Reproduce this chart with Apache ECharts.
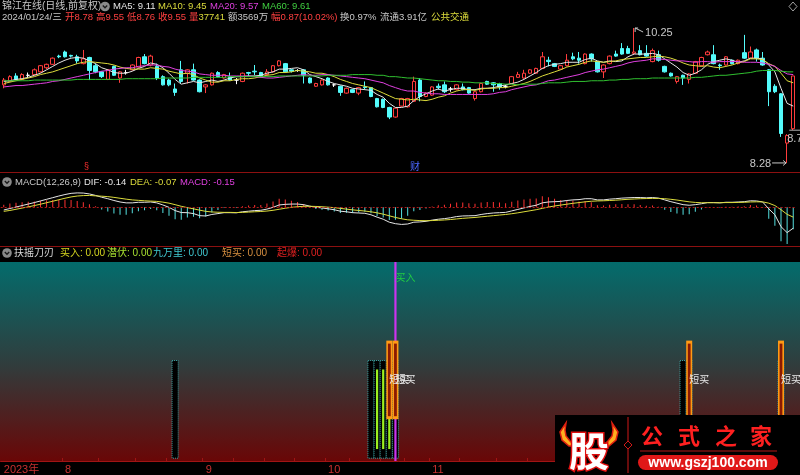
<!DOCTYPE html>
<html>
<head>
<meta charset="utf-8">
<script src="https://cdn.jsdelivr.net/npm/echarts@6/dist/echarts.min.js"></script>
<style>
html,body{margin:0;padding:0;background:#000;overflow:hidden;}
#chart{width:800px;height:475px;}
</style>
</head>
<body>
<div id="chart"></div>
<script>
// ---------- categories (trading days) ----------
const tradingDays = [
  ['2023-07', [18,19,20,21,24,25,26,27,28,31]],
  ['2023-08', [1,2,3,4,7,8,9,10,11,14,15,16,17,18,21,22,23,24,25,28,29,30,31]],
  ['2023-09', [1,4,5,6,7,8,11,12,13,14,15,18,19,20,21,22,25,26,27,28]],
  ['2023-10', [9,10,11,12,13,16,17,18,19,20,23,24,25,26,27,30,31]],
  ['2023-11', [1,2,3,6,7,8,9,10,13,14,15,16,17,20,21,22,23,24,27,28,29,30]],
  ['2023-12', [1,4,5,6,7,8,11,12,13,14,15,18,19,20,21,22,25,26,27,28,29]],
  ['2024-01', [2,3,4,5,8,9,10,11,12,15,16,17,18,19,22,23,24]]
];
const categories = [];
tradingDays.forEach(([m, ds]) => ds.forEach(d => categories.push(m + '-' + String(d).padStart(2, '0'))));

const axisLabels = [['2023-07-18','2023年'],['2023-08-01','8'],['2023-09-01','9'],['2023-10-09','10'],['2023-11-01','11'],['2023-12-01','12'],['2024-01-02','2024年']];
const axisTicks = ['2023-08-01','2023-08-09','2023-08-17','2023-08-24','2023-09-01','2023-09-08','2023-09-15','2023-09-22','2023-10-09','2023-10-13','2023-10-20','2023-10-26','2023-11-01','2023-11-08','2023-11-16','2023-11-23','2023-12-01','2023-12-08','2023-12-15','2023-12-22','2024-01-02','2024-01-08','2024-01-12','2024-01-18'];

// ---------- price data ----------
const opens = [9.42,9.47,9.55,9.50,9.56,9.57,9.61,9.67,9.72,9.84,
9.90,9.85,9.83,9.73,9.82,9.70,9.61,9.50,9.69,9.52,
9.60,9.64,9.68,9.83,9.71,9.69,9.54,9.49,9.36,9.64,
9.59,9.64,9.49,9.39,9.42,9.60,9.52,9.54,9.49,9.47,
9.60,9.62,9.60,9.57,9.61,9.70,9.73,9.64,9.63,9.64,
9.52,9.40,9.42,9.52,9.42,9.40,9.30,9.35,9.30,9.39,
9.38,9.22,9.21,9.09,8.95,9.11,9.10,9.18,9.49,9.25,
9.27,9.40,9.42,9.36,9.35,9.39,9.38,9.22,9.32,9.47,
9.45,9.44,9.40,9.44,9.53,9.52,9.59,9.59,9.66,9.78,
9.73,9.65,9.70,9.83,9.81,9.73,9.87,9.76,9.61,9.73,
9.87,9.95,9.95,9.88,9.92,9.88,9.76,9.86,9.69,9.59,
9.47,9.56,9.50,9.59,9.70,9.86,9.86,9.71,9.71,9.78,
9.73,9.89,9.81,9.93,9.81,9.64,9.40,9.29,8.57,8.78];
const highs = [9.52,9.56,9.59,9.59,9.60,9.66,9.71,9.73,9.82,9.86,
9.92,9.86,9.86,9.93,9.83,9.73,9.62,9.65,9.70,9.62,
9.64,9.72,9.83,9.87,9.86,9.73,9.56,9.51,9.44,9.77,
9.65,9.73,9.50,9.43,9.60,9.62,9.58,9.60,9.52,9.60,
9.61,9.71,9.61,9.65,9.71,9.78,9.74,9.65,9.65,9.65,
9.53,9.45,9.50,9.53,9.44,9.41,9.38,9.36,9.39,9.47,
9.39,9.23,9.22,9.10,9.09,9.23,9.23,9.54,9.52,9.31,
9.40,9.44,9.47,9.39,9.43,9.44,9.39,9.33,9.45,9.48,
9.46,9.45,9.42,9.55,9.61,9.64,9.65,9.67,9.90,9.83,
9.74,9.71,9.87,9.89,9.90,9.88,9.88,9.77,9.72,9.85,
9.92,10.03,9.99,10.25,10.00,10.00,9.95,9.92,9.70,9.60,
9.55,9.57,9.59,9.77,9.83,9.92,10.00,9.73,9.84,9.79,
9.79,10.15,9.98,9.95,9.90,9.65,9.43,9.30,8.70,9.55];
const lows = [9.37,9.46,9.49,9.49,9.52,9.56,9.60,9.65,9.71,9.81,
9.82,9.82,9.73,9.72,9.49,9.59,9.52,9.49,9.55,9.45,
9.57,9.63,9.67,9.72,9.69,9.49,9.41,9.40,9.26,9.44,
9.44,9.48,9.31,9.30,9.41,9.53,9.51,9.48,9.43,9.46,
9.55,9.56,9.53,9.56,9.60,9.69,9.60,9.60,9.61,9.44,
9.44,9.39,9.41,9.41,9.39,9.26,9.29,9.30,9.27,9.35,
9.24,9.09,9.08,8.92,8.94,9.10,9.09,9.17,9.18,9.24,
9.26,9.35,9.30,9.32,9.34,9.34,9.29,9.19,9.31,9.42,
9.32,9.35,9.37,9.43,9.52,9.51,9.58,9.58,9.65,9.69,
9.68,9.64,9.69,9.78,9.73,9.72,9.76,9.60,9.52,9.72,
9.83,9.86,9.87,9.86,9.85,9.83,9.75,9.76,9.60,9.54,
9.44,9.42,9.44,9.58,9.69,9.85,9.72,9.64,9.70,9.72,
9.72,9.80,9.80,9.76,9.70,9.11,9.30,8.66,8.28,8.76];
const closes = [9.49,9.54,9.50,9.57,9.56,9.64,9.70,9.72,9.81,9.83,
9.83,9.84,9.77,9.80,9.63,9.61,9.54,9.64,9.56,9.61,
9.60,9.71,9.82,9.73,9.84,9.52,9.42,9.42,9.31,9.47,
9.64,9.49,9.32,9.42,9.59,9.54,9.57,9.49,9.49,9.59,
9.59,9.61,9.54,9.61,9.70,9.77,9.61,9.62,9.63,9.56,
9.45,9.44,9.49,9.42,9.42,9.31,9.37,9.31,9.38,9.38,
9.25,9.10,9.09,8.95,9.08,9.22,9.22,9.47,9.25,9.30,
9.39,9.38,9.32,9.36,9.42,9.35,9.30,9.32,9.44,9.43,
9.42,9.39,9.40,9.54,9.57,9.59,9.64,9.66,9.83,9.76,
9.69,9.70,9.78,9.80,9.78,9.87,9.80,9.61,9.71,9.84,
9.84,9.87,9.88,9.90,9.86,9.84,9.92,9.78,9.61,9.55,
9.54,9.52,9.58,9.76,9.82,9.90,9.73,9.70,9.83,9.73,
9.78,9.81,9.90,9.81,9.71,9.32,9.32,8.71,8.68,9.55];

// ---------- moving averages ----------
const ma5 = [9.47,9.48,9.50,9.51,9.53,9.56,9.59,9.64,9.69,9.74,
9.78,9.81,9.82,9.81,9.77,9.73,9.67,9.64,9.60,9.59,
9.59,9.62,9.66,9.69,9.74,9.72,9.67,9.59,9.50,9.43,
9.45,9.47,9.45,9.47,9.49,9.47,9.49,9.52,9.54,9.54,
9.55,9.55,9.56,9.59,9.61,9.65,9.65,9.66,9.67,9.64,
9.57,9.54,9.51,9.47,9.44,9.42,9.40,9.37,9.36,9.35,
9.34,9.28,9.24,9.15,9.09,9.09,9.11,9.19,9.25,9.29,
9.33,9.36,9.33,9.35,9.37,9.37,9.35,9.35,9.37,9.37,
9.38,9.40,9.42,9.44,9.46,9.50,9.55,9.60,9.66,9.70,
9.72,9.73,9.75,9.75,9.75,9.79,9.81,9.77,9.75,9.77,
9.76,9.77,9.83,9.87,9.87,9.87,9.88,9.86,9.80,9.74,
9.68,9.60,9.56,9.59,9.64,9.72,9.76,9.78,9.80,9.78,
9.75,9.77,9.81,9.81,9.80,9.71,9.61,9.37,9.15,9.11];
const ma10 = [9.44,9.46,9.48,9.50,9.52,9.54,9.57,9.59,9.61,9.64,
9.67,9.70,9.73,9.75,9.76,9.75,9.74,9.73,9.71,9.68,
9.66,9.65,9.65,9.65,9.67,9.66,9.65,9.62,9.60,9.58,
9.59,9.57,9.52,9.49,9.46,9.46,9.48,9.48,9.50,9.51,
9.51,9.52,9.54,9.56,9.57,9.60,9.60,9.61,9.63,9.62,
9.61,9.59,9.59,9.57,9.54,9.50,9.47,9.44,9.42,9.40,
9.38,9.34,9.30,9.26,9.22,9.21,9.20,9.21,9.20,9.19,
9.21,9.24,9.26,9.30,9.33,9.35,9.35,9.34,9.36,9.37,
9.37,9.38,9.38,9.40,9.42,9.44,9.47,9.51,9.55,9.58,
9.61,9.64,9.68,9.70,9.72,9.75,9.77,9.76,9.75,9.76,
9.77,9.79,9.80,9.81,9.82,9.82,9.83,9.84,9.83,9.81,
9.78,9.74,9.71,9.70,9.69,9.70,9.68,9.67,9.69,9.71,
9.74,9.76,9.80,9.80,9.79,9.73,9.69,9.59,9.48,9.45];
const ma20 = [9.39,9.40,9.41,9.41,9.42,9.43,9.44,9.45,9.47,9.48,
9.50,9.52,9.54,9.56,9.58,9.60,9.62,9.63,9.65,9.66,
9.67,9.67,9.69,9.70,9.71,9.71,9.69,9.68,9.65,9.63,
9.62,9.61,9.58,9.57,9.56,9.56,9.56,9.55,9.55,9.55,
9.55,9.54,9.53,9.52,9.52,9.53,9.54,9.55,9.56,9.57,
9.56,9.56,9.57,9.57,9.56,9.55,9.54,9.53,9.52,9.51,
9.49,9.47,9.45,9.41,9.38,9.35,9.33,9.33,9.31,9.30,
9.29,9.29,9.28,9.28,9.28,9.28,9.28,9.28,9.28,9.28,
9.29,9.31,9.32,9.35,9.37,9.39,9.41,9.42,9.45,9.48,
9.49,9.51,9.53,9.55,9.57,9.60,9.62,9.64,9.65,9.67,
9.69,9.71,9.74,9.76,9.77,9.78,9.80,9.80,9.79,9.78,
9.77,9.77,9.76,9.75,9.76,9.76,9.75,9.76,9.76,9.76,
9.76,9.75,9.75,9.75,9.74,9.72,9.69,9.63,9.58,9.57];
const ma60 = [9.48,9.48,9.48,9.48,9.48,9.49,9.49,9.49,9.49,9.49,
9.49,9.49,9.50,9.50,9.50,9.50,9.50,9.50,9.50,9.50,
9.51,9.51,9.51,9.51,9.51,9.51,9.52,9.52,9.52,9.52,
9.52,9.53,9.53,9.53,9.53,9.53,9.53,9.54,9.54,9.54,
9.54,9.54,9.54,9.54,9.54,9.55,9.55,9.55,9.55,9.55,
9.55,9.55,9.55,9.56,9.56,9.56,9.56,9.57,9.57,9.57,
9.57,9.56,9.56,9.54,9.54,9.53,9.52,9.52,9.51,9.50,
9.49,9.48,9.48,9.47,9.47,9.46,9.46,9.45,9.45,9.45,
9.44,9.44,9.43,9.43,9.42,9.43,9.43,9.43,9.44,9.45,
9.45,9.45,9.46,9.47,9.47,9.47,9.48,9.48,9.48,9.49,
9.49,9.50,9.50,9.51,9.51,9.51,9.52,9.52,9.52,9.52,
9.52,9.52,9.52,9.53,9.53,9.54,9.55,9.56,9.56,9.57,
9.58,9.59,9.60,9.62,9.63,9.63,9.63,9.62,9.61,9.61];

// ---------- MACD ----------
const dif = [-0.018,-0.008,0.002,0.012,0.022,0.032,0.043,0.054,0.065,0.076,
0.086,0.094,0.097,0.096,0.09,0.08,0.068,0.058,0.046,0.036,
0.03,0.03,0.034,0.034,0.036,0.03,0.016,0,-0.022,-0.035,
-0.036,-0.042,-0.056,-0.058,-0.048,-0.042,-0.036,-0.036,-0.037,-0.03,
-0.026,-0.022,-0.02,-0.012,0,0.016,0.02,0.022,0.022,0.018,
0.008,0,-0.004,-0.01,-0.016,-0.026,-0.03,-0.036,-0.038,-0.04,
-0.05,-0.066,-0.08,-0.1,-0.11,-0.115,-0.112,-0.10,-0.098,-0.094,
-0.086,-0.08,-0.076,-0.07,-0.062,-0.058,-0.057,-0.056,-0.048,-0.042,
-0.038,-0.036,-0.034,-0.024,-0.014,-0.004,0.006,0.014,0.03,0.036,
0.038,0.04,0.046,0.05,0.052,0.058,0.058,0.05,0.05,0.055,
0.058,0.062,0.064,0.066,0.066,0.064,0.066,0.062,0.05,0.038,
0.028,0.018,0.014,0.018,0.024,0.032,0.032,0.03,0.034,0.034,
0.036,0.038,0.044,0.043,0.036,-0.01,-0.05,-0.13,-0.17,-0.14];
const dea = [-0.027,-0.021,-0.013,-0.005,0.003,0.012,0.021,0.031,0.041,0.051,
0.061,0.070,0.076,0.079,0.080,0.077,0.075,0.072,0.067,0.061,
0.055,0.050,0.047,0.044,0.042,0.040,0.035,0.028,0.018,0.007,
-0.002,-0.010,-0.019,-0.027,-0.031,-0.033,-0.034,-0.034,-0.035,-0.034,
-0.032,-0.030,-0.028,-0.025,-0.020,-0.013,-0.006,0.000,0.004,0.007,
0.007,0.006,0.004,0.001,-0.002,-0.007,-0.012,-0.017,-0.021,-0.025,
-0.030,-0.037,-0.046,-0.057,-0.068,-0.077,-0.084,-0.087,-0.089,-0.090,
-0.089,-0.087,-0.085,-0.082,-0.078,-0.074,-0.071,-0.068,-0.064,-0.060,
-0.056,-0.052,-0.048,-0.043,-0.037,-0.030,-0.023,-0.016,-0.007,0.002,
0.009,0.015,0.021,0.027,0.032,0.037,0.041,0.043,0.044,0.046,
0.048,0.051,0.054,0.056,0.058,0.059,0.060,0.060,0.058,0.054,
0.049,0.043,0.037,0.033,0.031,0.031,0.031,0.031,0.032,0.032,
0.033,0.034,0.036,0.037,0.037,0.028,0.012,-0.016,-0.047,-0.066];
const macd = [0.018,0.025,0.030,0.034,0.038,0.040,0.044,0.047,0.049,0.051,
0.051,0.049,0.043,0.034,0.021,0.007,-0.014,-0.028,-0.042,-0.050,
-0.050,-0.040,-0.026,-0.020,-0.012,-0.020,-0.038,-0.056,-0.080,-0.084,
-0.068,-0.064,-0.074,-0.062,-0.034,-0.018,-0.004,-0.004,-0.004,0.008,
0.012,0.016,0.016,0.026,0.040,0.058,0.052,0.044,0.036,0.022,
0.002,-0.012,-0.016,-0.022,-0.028,-0.038,-0.036,-0.038,-0.034,-0.030,
-0.040,-0.058,-0.068,-0.086,-0.084,-0.076,-0.056,-0.026,-0.018,-0.008,
0.006,0.014,0.018,0.024,0.032,0.032,0.028,0.024,0.032,0.036,
0.036,0.032,0.028,0.038,0.046,0.052,0.058,0.060,0.074,0.068,
0.058,0.050,0.050,0.046,0.040,0.042,0.034,0.014,0.012,0.018,
0.020,0.022,0.020,0.020,0.016,0.010,0.012,0.004,-0.016,-0.032,
-0.042,-0.050,-0.046,-0.030,-0.014,0.002,0.002,-0.002,0.004,0.004,
0.006,0.008,0.016,0.012,-0.002,-0.076,-0.124,-0.228,-0.246,-0.148];

// ---------- 扶摇刀刃 indicator signals: [date, low, high] ----------
const latentBars = [['2023-08-25',1.4,50.5],['2023-10-18',1.4,50.5],['2023-10-19',1.4,50.5],['2023-10-20',1.4,50.5],['2023-10-23',1.4,50.5],['2023-10-24',1.4,50.5],['2023-12-28',1.4,50.5],['2023-12-29',1.4,50.5],['2024-01-22',1.4,50.5]];
const ninetyBars = [['2023-10-19',6,46],['2023-10-20',6,46],['2023-10-23',6,46]];
const shortBuyBars = [['2023-10-23',21,60.5],['2023-10-24',21,60.5],['2023-12-29',21,60.5],['2024-01-22',21,60.5]];
const buyLines = [['2023-10-24',0,100]];
const shortBuyText = [['2023-10-23',41],['2023-10-24',41],['2023-12-29',41],['2024-01-22',41]];
const buyText = [['2023-10-24',92.5]];

// ---------- header values ----------
const quote = {date:'2024/01/24/三', open:'8.78', high:'9.55', low:'8.76', close:'9.55', vol:'37741', amt:'3569万', chg:'0.87(10.02%)', turn:'0.97%', flt:'3.91亿', sector:'公共交通'};
const macdHead = {dif:'-0.14', dea:'-0.07', macd:'-0.15'};

// ================= rendering =================
const FONT = '"Liberation Sans","Noto Sans CJK SC",sans-serif';
const CJK = '"Noto Sans CJK SC",sans-serif';
const chart = echarts.init(document.getElementById('chart'), null, {renderer:'canvas'});
const labelMap = new Map(axisLabels);
const tickSet = new Set(axisTicks);

function T(x, y, text, fill, size, extra) {
  return Object.assign({type:'text', z:50, style:{text:text, x:x, y:y, fill:fill, font:(size||10)+'px '+FONT, verticalAlign:'middle', textVerticalAlign:'middle'}}, extra||{});
}
function icon(cx, cy) {
  return [
    {type:'circle', z:50, shape:{cx:cx, cy:cy, r:4.8}, style:{fill:'#8a8a8a'}},
    {type:'polyline', z:51, shape:{points:[[cx-2.2,cy-1],[cx,cy+1.3],[cx+2.2,cy-1]]}, style:{stroke:'#1a1a1a', lineWidth:1.3, fill:null}}
  ];
}
function wmText(t, x, y, fill, font) {
  return {type:'text', z:102, style:{text:t, x:x, y:y, fill:fill, font:font, align:'center', textAlign:'center', verticalAlign:'middle', textVerticalAlign:'middle'}};
}
const RED='#ff4040', GRAY='#c8c8c8', YEL='#dcdc3c';
const last = categories.length - 1;
const R2 = 9.5;

const baseGraphics = [
  {type:'rect', z:-10, shape:{x:0,y:262,width:800,height:200}, style:{fill:{type:'linear',x:0,y:0,x2:0,y2:1,colorStops:[{offset:0,color:'#036c6c'},{offset:0.5,color:'#2f3e3e'},{offset:1,color:'#6a0606'}]}}},
  {type:'line', z:5, shape:{x1:0,y1:172.5,x2:800,y2:172.5}, style:{stroke:'#8c1010', lineWidth:1}},
  {type:'line', z:5, shape:{x1:0,y1:246.5,x2:800,y2:246.5}, style:{stroke:'#8c1010', lineWidth:1}},
  // header row 1
  T(2, 6.5, '锦江在线(日线,前复权)', GRAY),
  ...icon(105, 6.5),
  T(113, 6.5, 'MA5: ' + ma5[last].toFixed(2), '#e6e6e6', 9.5),
  T(158, 6.5, 'MA10: ' + ma10[last].toFixed(2), YEL, 9.5),
  T(210, 6.5, 'MA20: ' + ma20[last].toFixed(2), '#e040e0', 9.5),
  T(262, 6.5, 'MA60: ' + ma60[last].toFixed(2), '#40d040', 9.5),
  // header row 2
  T(2, 17, quote.date, GRAY, R2),
  T(65, 17, '开' + quote.open, RED, R2),
  T(96, 17, '高' + quote.high, RED, R2),
  T(127, 17, '低' + quote.low, RED, R2),
  T(158, 17, '收' + quote.close, RED, R2),
  T(189, 17, '量', RED, R2),
  T(198.5, 17, quote.vol, YEL, R2),
  T(228, 17, '额' + quote.amt, GRAY, R2),
  T(271, 17, '幅' + quote.chg, RED, R2),
  T(340, 17, '换' + quote.turn, GRAY, R2),
  T(380, 17, '流通' + quote.flt, GRAY, R2),
  T(431, 17, quote.sector, YEL, R2),
  {type:'polygon', z:50, shape:{points:[[793,2],[797,6.5],[793,11],[789,6.5]]}, style:{stroke:'#a0a0a0', fill:null, lineWidth:1}},
  // MACD header
  ...icon(7, 182),
  T(15, 182, 'MACD(12,26,9)', GRAY, 9.5),
  T(84, 182, 'DIF: ' + macdHead.dif, '#e6e6e6', 9.5),
  T(130, 182, 'DEA: ' + macdHead.dea, YEL, 9.5),
  T(180, 182, 'MACD: ' + macdHead.macd, '#e040e0', 9.5),
  // indicator header
  ...icon(7, 253),
  T(14, 253, '扶摇刀刃', '#d8d8d8'),
  T(60, 253, '买入: 0.00', '#d8d820'),
  T(107, 253, '潜伏: 0.00', '#a8e030'),
  T(153, 253, '九万里: 0.00', '#40c8d0'),
  T(222, 253, '短买: 0.00', '#d89040'),
  T(277, 253, '起爆: 0.00', '#e02020'),
  // event markers
  T(84, 167, '§', '#ff3030', 9),
  T(410, 167, '财', '#4a66ff', 10),
  // watermark
  {type:'group', z:100, children:[
    {type:'rect', z:100, shape:{x:555,y:415,width:245,height:60}, style:{fill:'#000'}},
    {type:'polygon', z:101, shape:{points:[[566,423],[560,432],[562,440],[569,446],[575,446],[570,441],[566,436],[565,430]]}, style:{fill:'#ffb020', stroke:'#e02010', lineWidth:1.5}},
    {type:'polygon', z:101, shape:{points:[[612,423],[618,432],[616,440],[609,446],[603,446],[608,441],[612,436],[613,430]]}, style:{fill:'#ffb020', stroke:'#e02010', lineWidth:1.5}},
    {type:'text', z:102, style:{text:'股', x:589, y:451, fill:'#ffffff', stroke:'#e01010', lineWidth:3, font:'bold 40px '+CJK, align:'center', textAlign:'center', verticalAlign:'middle', textVerticalAlign:'middle'}},
    {type:'line', z:101, shape:{x1:628,y1:417,x2:628,y2:473}, style:{stroke:'#d01818', lineWidth:1}},
    {type:'polygon', z:102, shape:{points:[[628,441],[632,445],[628,449],[624,445]]}, style:{fill:'#000', stroke:'#d01818', lineWidth:1}},
    wmText('公', 652, 436, '#ff2020', 'bold 22px '+CJK),
    wmText('式', 689, 436, '#ff2020', 'bold 22px '+CJK),
    wmText('之', 726, 436, '#ff2020', 'bold 22px '+CJK),
    wmText('家', 761, 436, '#ff2020', 'bold 22px '+CJK),
    {type:'line', z:101, shape:{x1:640,y1:451,x2:777,y2:451}, style:{stroke:'#7a1010', lineWidth:1.5}},
    {type:'rect', z:101, shape:{x:638,y:455,width:140,height:15,r:7.5}, style:{fill:'#e01818'}},
    wmText('www.gszj100.com', 708, 463, '#ffffff', 'bold 14px "Liberation Sans",Arial,sans-serif')
  ]}
];

function stick(style, width) {
  return function (params, api) {
    const x = api.value(0);
    const lo = api.coord([x, api.value(1)]);
    const hi = api.coord([x, api.value(2)]);
    const w = width || api.size([1, 0])[0];
    return {type:'rect', shape:{x:lo[0]-w/2, y:hi[1], width:w, height:lo[1]-hi[1]}, style:style};
  };
}
function orangeStick(params, api) {
  const x = api.value(0);
  const lo = api.coord([x, api.value(1)]);
  const hi = api.coord([x, api.value(2)]);
  return {type:'group', children:[
    {type:'rect', shape:{x:lo[0]-3, y:hi[1], width:6, height:lo[1]-hi[1]}, style:{fill:'#ff9a14'}},
    {type:'rect', shape:{x:lo[0]-1.4, y:hi[1]+3, width:2.8, height:lo[1]-hi[1]-6}, style:{fill:'#8a1a02'}}
  ]};
}
function textItem(txt, color) {
  return function (params, api) {
    const p = api.coord([api.value(0), api.value(1)]);
    return {type:'text', x:p[0], y:p[1], style:{text:txt, fill:color, font:'10px '+CJK, verticalAlign:'middle', textVerticalAlign:'middle'}};
  };
}

const G = {left:0.7, width:795.6};
const option = {
  backgroundColor:'#000',
  animation:false,
  grid:[
    Object.assign({top:22, height:148}, G),
    Object.assign({top:188, height:58}, G),
    Object.assign({top:262, height:200}, G)
  ],
  xAxis:[
    {type:'category', gridIndex:0, data:categories, boundaryGap:true, show:false},
    {type:'category', gridIndex:1, data:categories, boundaryGap:true, show:false},
    {type:'category', gridIndex:2, data:categories, boundaryGap:true, show:true,
      axisLine:{show:true, lineStyle:{color:'#a01414', width:1}},
      axisTick:{show:true, inside:true, length:3, interval:(i, v) => tickSet.has(v), lineStyle:{color:'#a01414'}},
      axisLabel:{show:true, interval:(i, v) => labelMap.has(v), formatter:(v) => labelMap.get(v) || '', align:'left', color:'#c83030', fontSize:11, fontFamily:FONT, margin:3},
      splitLine:{show:false}}
  ],
  yAxis:[
    {type:'value', gridIndex:0, min:8.177, max:10.338, show:false, splitLine:{show:false}},
    {type:'value', gridIndex:1, min:-0.26, max:0.13, show:false, splitLine:{show:false}},
    {type:'value', gridIndex:2, min:0, max:100, show:false, splitLine:{show:false}}
  ],
  series:[
    {type:'candlestick', xAxisIndex:0, yAxisIndex:0, z:2, barWidth:4,
      data:categories.map((c, i) => [opens[i], closes[i], lows[i], highs[i]]),
      itemStyle:{color:'#000000', color0:'#54fcfc', borderColor:'#ff3c3c', borderColor0:'#54fcfc', borderColorDoji:'#ffffff', borderWidth:1}},
    {type:'line', xAxisIndex:0, yAxisIndex:0, z:3, data:ma5, symbol:'none', lineStyle:{width:1, color:'#e6e6e6'}},
    {type:'line', xAxisIndex:0, yAxisIndex:0, z:3, data:ma10, symbol:'none', lineStyle:{width:1, color:'#dcdc3c'}},
    {type:'line', xAxisIndex:0, yAxisIndex:0, z:3, data:ma20, symbol:'none', lineStyle:{width:1, color:'#e040e0'}},
    {type:'line', xAxisIndex:0, yAxisIndex:0, z:3, data:ma60, symbol:'none', lineStyle:{width:1, color:'#30c030'}},
    {type:'bar', xAxisIndex:1, yAxisIndex:1, barWidth:1, z:2,
      data:macd.map(v => ({value:v, itemStyle:{color: v >= 0 ? '#ff3232' : '#54e0e0'}})),
      markLine:{silent:true, symbol:'none', label:{show:false}, lineStyle:{color:'#b01818', type:[2,2], width:1}, data:[{yAxis:0}]}},
    {type:'line', xAxisIndex:1, yAxisIndex:1, z:3, data:dif, symbol:'none', lineStyle:{width:1, color:'#e6e6e6'}},
    {type:'line', xAxisIndex:1, yAxisIndex:1, z:3, data:dea, symbol:'none', lineStyle:{width:1, color:'#dcdc3c'}},
    {type:'custom', xAxisIndex:2, yAxisIndex:2, z:3, data:latentBars, encode:{x:0, y:[1,2]},
      renderItem:stick({fill:'#000', stroke:'#3aa0a0', lineWidth:1, lineDash:[1,1]})},
    {type:'custom', xAxisIndex:2, yAxisIndex:2, z:4, data:ninetyBars, encode:{x:0, y:[1,2]},
      renderItem:stick({fill:'#9cf020'}, 2.2)},
    {type:'custom', xAxisIndex:2, yAxisIndex:2, z:5, data:buyLines, encode:{x:0, y:[1,2]},
      renderItem:stick({fill:'#cc33ee'}, 2.2)},
    {type:'custom', xAxisIndex:2, yAxisIndex:2, z:6, data:shortBuyBars, encode:{x:0, y:[1,2]},
      renderItem:orangeStick},
    {type:'custom', xAxisIndex:2, yAxisIndex:2, z:7, data:shortBuyText, encode:{x:0, y:1},
      renderItem:textItem('短买', '#e8e8e8')},
    {type:'custom', xAxisIndex:2, yAxisIndex:2, z:7, data:buyText, encode:{x:0, y:1},
      renderItem:textItem('买入', '#22cc44')}
  ],
  graphic:{elements:baseGraphics}
};
chart.setOption(option);

// extreme-price annotations placed through the price scale
const hiIdx = highs.indexOf(Math.max(...highs));
const loIdx = lows.indexOf(Math.min(...lows));
const ph = chart.convertToPixel({xAxisIndex:0, yAxisIndex:0}, [hiIdx, highs[hiIdx]]);
const pl = chart.convertToPixel({xAxisIndex:0, yAxisIndex:0}, [loIdx, lows[loIdx]]);
const pc = chart.convertToPixel({xAxisIndex:0, yAxisIndex:0}, [last, opens[last]]);
const lowLabel = T(pl[0]-16, pl[1]+1, lows[loIdx].toFixed(2), '#c8c8c8', 11);
lowLabel.style.align = 'right'; lowLabel.style.textAlign = 'right';
const ann = [
  {type:'polyline', z:20, shape:{points:[[ph[0]+1, ph[1]],[ph[0]+9, ph[1]+4]]}, style:{stroke:'#c8c8c8', lineWidth:1, fill:null}},
  {type:'polyline', z:20, shape:{points:[[ph[0]+1, ph[1]+4],[ph[0]+1, ph[1]],[ph[0]+4, ph[1]]]}, style:{stroke:'#c8c8c8', lineWidth:1, fill:null}},
  T(ph[0]+11, ph[1]+4.5, highs[hiIdx].toFixed(2), '#c8c8c8', 11),
  {type:'line', z:20, shape:{x1:pl[0]-15, y1:pl[1], x2:pl[0]-1, y2:pl[1]}, style:{stroke:'#c8c8c8', lineWidth:1}},
  {type:'polyline', z:20, shape:{points:[[pl[0]-4, pl[1]-2.5],[pl[0]-1, pl[1]],[pl[0]-4, pl[1]+2.5]]}, style:{stroke:'#c8c8c8', lineWidth:1, fill:null}},
  lowLabel,
  {type:'line', z:20, shape:{x1:pc[0]-4, y1:pc[1]+1.5, x2:800, y2:pc[1]+1.5}, style:{stroke:'#b0b0b0', lineWidth:1}},
  T(pc[0]-6, pc[1]+10, opens[last].toFixed(2), '#c8c8c8', 11)
];
chart.setOption({graphic:{elements:baseGraphics.concat(ann)}});
</script>
</body>
</html>
